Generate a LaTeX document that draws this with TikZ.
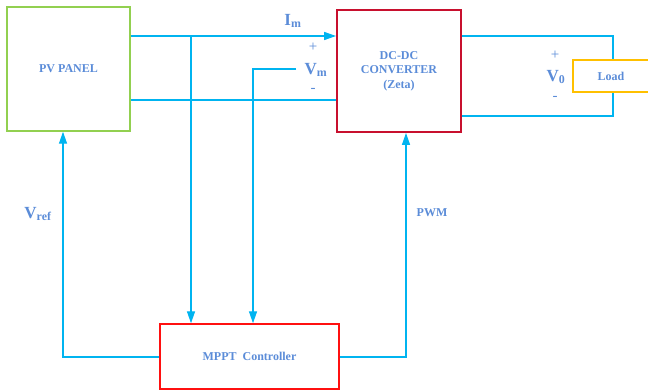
\documentclass[tikz,border=0pt]{standalone}
\usepackage{fontspec}
\setmainfont{Liberation Serif}
\usetikzlibrary{arrows.meta}
\definecolor{wire}{HTML}{00B4F0}
\definecolor{txtblue}{HTML}{5B8CD8}
\definecolor{pvgreen}{HTML}{92D050}
\definecolor{convred}{HTML}{C8102E}
\definecolor{mpptred}{HTML}{FF1010}
\definecolor{loadorange}{HTML}{FFC000}
\tikzset{
  block/.style={line width=1.4pt, inner sep=0pt, align=center, text=txtblue, font=\fontsize{12}{14.5}\selectfont\bfseries},
  wireline/.style={draw=wire, line width=1.3pt},
  tip/.style={-{Triangle[length=12pt,width=8pt]}},
  lbl/.style={text=txtblue, font=\fontsize{17}{19}\selectfont\bfseries, inner sep=0pt},
  sign/.style={text=txtblue, font=\fontsize{15}{17}\selectfont, inner sep=0pt}
}
\begin{document}
\begin{tikzpicture}[x=1pt,y=-1pt]
\useasboundingbox (0,0) rectangle (648,391);
% blocks
\node[block, draw=pvgreen, minimum width=123pt, minimum height=124pt] (pv) at (68.5,69) {PV PANEL};
\node[block, draw=convred, line width=1.8pt, minimum width=124pt, minimum height=122pt] (conv) at (399,71) {DC-DC\\CONVERTER\\(Zeta)};
\node[block, draw=loadorange, minimum width=76pt, minimum height=32pt] (load) at (611,76) {Load};
\node[block, draw=mpptred, minimum width=179pt, minimum height=65pt] (mppt) at (249.5,356.5) {MPPT\ \ Controller};
% junctions
\coordinate (jI) at (191,36);
\coordinate (jV) at (253,69);
\coordinate (jVend) at (296,69);
\coordinate (jlo) at (0,100);
\coordinate (jref) at (63,357);
\coordinate (jpwm) at (406,357);
\coordinate (jout) at (613,36);
\coordinate (jret) at (613,116);
% PV to converter
\draw[wireline, tip] (pv.east |- jI) -- (conv.west |- jI);
\draw[wireline] (pv.east |- jlo) -- (conv.west |- jlo);
% measurements to MPPT
\draw[wireline, tip] (jI) -- (jI |- mppt.north);
\draw[wireline, tip] (jVend) -- (jV) -- (jV |- mppt.north);
% control signals
\draw[wireline, tip] (mppt.west |- jref) -- (jref) -- (jref |- pv.south);
\draw[wireline, tip] (mppt.east |- jpwm) -- (jpwm) -- (jpwm |- conv.south);
% output to load
\draw[wireline] (conv.east |- jout) -- (jout) -- (jout |- load.north);
\draw[wireline] (conv.east |- jret) -- (jret) -- (jret |- load.south);
% labels
\node[lbl] (im) at (293,21) {I\textsubscript{m}};
\node[sign] (vmp) at (313,47) {+};
\node[lbl] (vm) at (316,70) {V\textsubscript{m}};
\node[sign] (vmm) at (313,90) {-};
\node[sign] (vop) at (555,55) {+};
\node[lbl] (vo) at (556,77) {V\textsubscript{0}};
\node[sign] (vom) at (555,98) {-};
\node[lbl] (vref) at (38,214) {V\textsubscript{ref}};
\node[lbl, font=\fontsize{12}{14}\selectfont\bfseries] (pwm) at (432,213) {PWM};
\end{tikzpicture}
\end{document}
